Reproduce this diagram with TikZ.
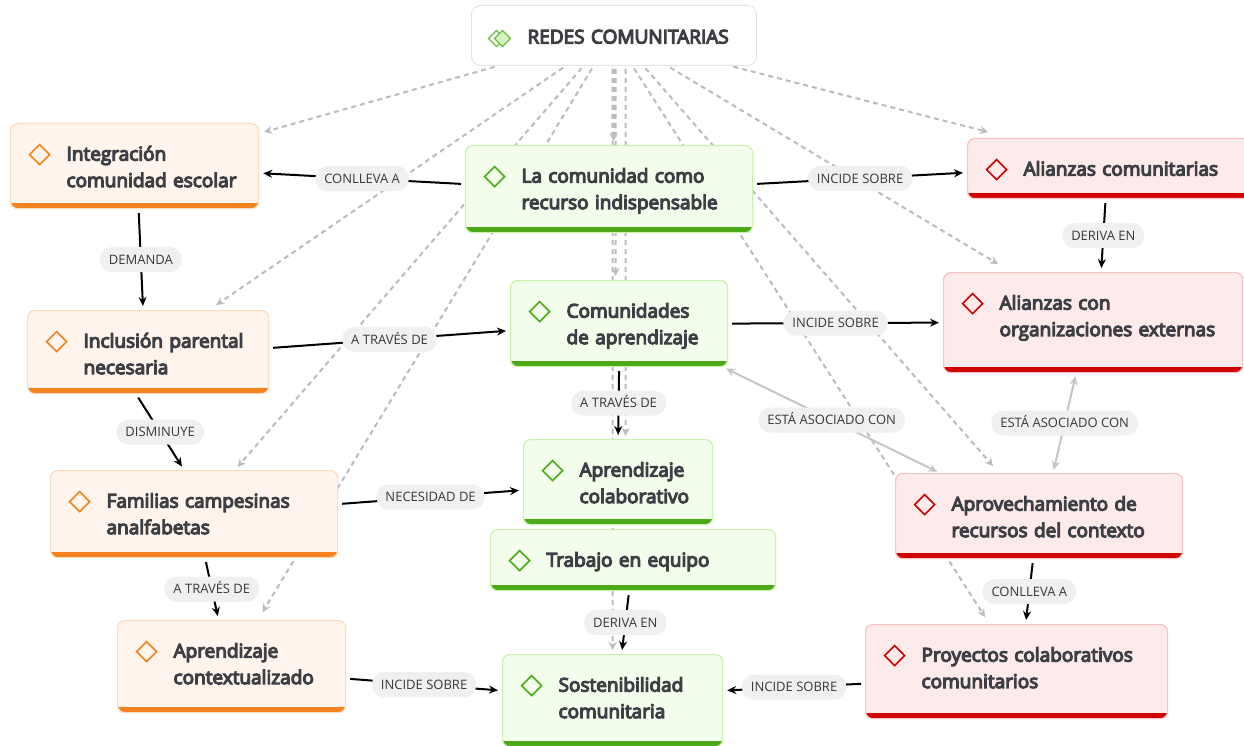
\documentclass[tikz,border=0pt]{standalone}
\usepackage{fontspec}
\setmainfont{Open Sans}
\newfontfamily\conceptfont[FakeBold=6]{Open Sans}
\usetikzlibrary{arrows.meta,backgrounds}

\definecolor{ink}{HTML}{3E3F45}
\definecolor{orfill}{HTML}{FFF5EC}
\definecolor{orline}{HTML}{FCDCC0}
\definecolor{orbar}{HTML}{F5821F}
\definecolor{grfill}{HTML}{F2FDEB}
\definecolor{grline}{HTML}{C9F2AC}
\definecolor{grbar}{HTML}{4CAA18}
\definecolor{rdfill}{HTML}{FDEBEB}
\definecolor{rdline}{HTML}{F7C2C2}
\definecolor{rdbar}{HTML}{D10000}
\definecolor{rootline}{HTML}{E4E4E4}
\definecolor{tagfill}{HTML}{F0F0F1}
\definecolor{dashgray}{HTML}{B9BCC2}
\definecolor{assocgray}{HTML}{C6C6C8}

\tikzset{
  concept/.style={rectangle, rounded corners=7pt, inner sep=0pt, anchor=north west,
    align=left, text height=37pt, text=ink, line width=1.2pt,
    font=\conceptfont\fontsize{19}{26.5}\selectfont,
    execute at begin node={\leftskip=56pt}},
  tinted/.style n args={3}{concept, fill=#1, draw=#2,
    path picture={
      \fill[#3, sharp corners] ([yshift=6pt]path picture bounding box.south west) rectangle (path picture bounding box.south east);
      \draw[#3, sharp corners, line width=1.6pt] ([shift={(19pt,-31pt)}]path picture bounding box.north west)
        -- ++(10pt,10pt) -- ++(10pt,-10pt) -- ++(-10pt,-10pt) -- cycle;}},
  orangebox/.style={tinted={orfill}{orline}{orbar}},
  greenbox/.style={tinted={grfill}{grline}{grbar}},
  redbox/.style={tinted={rdfill}{rdline}{rdbar}},
  rootbox/.style={concept, fill=white, draw=rootline, line width=1pt, rounded corners=9pt,
    text height=38pt,
    path picture={
      \draw[grbar!80, sharp corners, line width=1.4pt] ([shift={(17pt,-33pt)}]path picture bounding box.north west)
        -- ++(8pt,8pt) -- ++(8pt,-8pt) -- ++(-8pt,-8pt) -- cycle;
      \draw[grbar!80, fill=grline!80, sharp corners, line width=1.4pt] ([shift={(23pt,-33pt)}]path picture bounding box.north west)
        -- ++(8pt,8pt) -- ++(8pt,-8pt) -- ++(-8pt,-8pt) -- cycle;}},
  tag/.style={fill=tagfill, rounded corners=12pt, inner xsep=9pt, inner ysep=0pt,
    minimum height=25pt, text height=9.5pt, text depth=0pt, text=ink!90!black,
    font=\fontsize{13}{15}\selectfont},
  link/.style={-{Stealth[length=9pt,width=8pt]}, line width=2pt, black,
    shorten <=4pt, shorten >=4pt},
  assoc/.style={{Stealth[length=9pt,width=8pt]}-{Stealth[length=9pt,width=8pt]},
    line width=2pt, assocgray, shorten <=3pt, shorten >=3pt},
  rootlink/.style={-{Stealth[length=8pt,width=8pt]}, dashgray, line width=2pt,
    dash pattern=on 5pt off 4pt, shorten <=3pt}
}

\begin{document}
\begin{tikzpicture}[x=1pt,y=-1pt]
  \useasboundingbox (0,0) rectangle (1244,746);

  \node[rootbox, text width=285pt, text depth=22pt] (root) at (471,5) {REDES COMUNITARIAS};

  % orange column
  \node[orangebox, text width=248pt, text depth=48pt] (integ) at (10,123) {Integración\\comunidad escolar};
  \node[orangebox, text width=241pt, text depth=46pt] (incl) at (27,310) {Inclusión parental\\necesaria};
  \node[orangebox, text width=287pt, text depth=50pt] (fam) at (50,470) {Familias campesinas\\analfabetas};
  \node[orangebox, text width=228pt, text depth=55pt] (aprctx) at (117,620) {Aprendizaje\\contextualizado};

  % green column
  \node[greenbox, text width=287pt, text depth=50pt] (lcom) at (465,145) {La comunidad como\\recurso indispensable};
  \node[greenbox, text width=217pt, text depth=49pt] (comap) at (510,280) {Comunidades\\de aprendizaje};
  \node[greenbox, text width=189pt, text depth=48pt] (aprcol) at (523,439) {Aprendizaje\\colaborativo};
  \node[greenbox, text width=285pt, text depth=24pt] (trab) at (490,529) {Trabajo en equipo};
  \node[greenbox, text width=220pt, text depth=55pt] (sost) at (502,654) {Sostenibilidad\\comunitaria};

  % red column
  \node[redbox, text width=290pt, text depth=23pt] (alcom) at (967,138) {Alianzas comunitarias};
  \node[redbox, text width=299pt, text depth=63pt] (alorg) at (943,272) {Alianzas con\\organizaciones externas};
  \node[redbox, text width=287pt, text depth=48pt] (aprov) at (895,473) {Aprovechamiento de\\recursos del contexto};
  \node[redbox, text width=302pt, text depth=57pt] (proy) at (865,624) {Proyectos colaborativos\\comunitarios};

  % links from the central topic, behind the boxes
  \begin{scope}[on background layer]
    \fill[white] (0,0) rectangle (1244,746);
    \draw[rootlink] ([xshift=-116.5pt]root.south) -- ([xshift=5pt,yshift=-9pt]integ.north east);
    \draw[rootlink] ([xshift=-48.5pt]root.south) -- ([xshift=-53pt,yshift=5pt]incl.north east);
    \draw[rootlink] ([xshift=-30.5pt]root.south) -- ([xshift=43.5pt,yshift=3pt]fam.north);
    \draw[rootlink] ([xshift=-20.5pt]root.south) -- ([xshift=31pt,yshift=8pt]aprctx.north);
    \draw[rootlink, line width=4pt] (root.south) -- ([xshift=4.5pt,yshift=4pt]lcom.north);
    \draw[rootlink] ([xshift=1.5pt]root.south) -- ([xshift=-3.5pt,yshift=4pt]comap.north);
    \draw[rootlink] ([xshift=11.5pt]root.south) -- ([xshift=7.5pt,yshift=3pt]aprcol.north);
    \draw[rootlink] ([xshift=-1.5pt]root.south) -- ([yshift=4pt]sost.north);
    \draw[rootlink] ([xshift=18.5pt]root.south) -- ([xshift=120pt,yshift=7pt]proy.north west);
    \draw[rootlink] ([xshift=29.5pt]root.south) -- ([xshift=98pt,yshift=7pt]aprov.north west);
    \draw[rootlink] ([xshift=53.5pt]root.south) -- ([xshift=55pt,yshift=8pt]alorg.north west);
    \draw[rootlink] ([xshift=116.5pt]root.south) -- ([xshift=21pt,yshift=6pt]alcom.north west);
  \end{scope}

  % labelled relations
  \draw[link] ([yshift=5pt]lcom.west) -- node[tag] {CONLLEVA A} ([yshift=-7pt]integ.east);
  \draw[link] ([yshift=5pt]lcom.east) -- node[tag] {INCIDE SOBRE} ([yshift=-4pt]alcom.west);
  \draw[link] ([xshift=4pt]integ.south) -- node[tag] {DEMANDA} ([xshift=-5pt]incl.north);
  \draw[link] ([yshift=4pt]incl.east) -- node[tag] {A TRAVÉS DE} ([yshift=-7pt]comap.west);
  \draw[link] (comap.east) -- node[tag] {INCIDE SOBRE} (alorg.west);
  \draw[link] ([xshift=-7pt]alcom.south) -- node[tag] {DERIVA EN} ([xshift=8pt]alorg.north);
  \draw[link] ([xshift=-12pt]incl.south) -- node[tag] {DISMINUYE} ([xshift=-10pt]fam.north);
  \draw[link] (comap.south) -- node[tag] {A TRAVÉS DE} (aprcol.north);
  \draw[link] ([yshift=10pt]fam.east) -- node[tag] {NECESIDAD DE} ([yshift=-8pt]aprcol.west);
  \draw[link] ([xshift=11pt]fam.south) -- node[tag] {A TRAVÉS DE} ([xshift=-13pt]aprctx.north);
  \draw[link] ([xshift=-4pt]trab.south) -- node[tag] {DERIVA EN} ([xshift=9pt]sost.north);
  \draw[link] ([yshift=-12pt]aprctx.east) -- node[tag] {INCIDE SOBRE} ([yshift=10pt]sost.west);
  \draw[link] ([yshift=-12pt]proy.west) -- node[tag] {INCIDE SOBRE} ([yshift=10pt]sost.east);
  \draw[link] ([xshift=-6pt]aprov.south) -- node[tag] {CONLLEVA A} ([xshift=9pt]proy.north);

  % associations
  \draw[assoc] ([xshift=-5pt]comap.south east) -- node[tag] {ESTÁ ASOCIADO CON} ([xshift=45pt]aprov.north west);
  \draw[assoc] ([xshift=-17pt]alorg.south) -- node[tag] {ESTÁ ASOCIADO CON} ([xshift=14pt]aprov.north);
\end{tikzpicture}
\end{document}
